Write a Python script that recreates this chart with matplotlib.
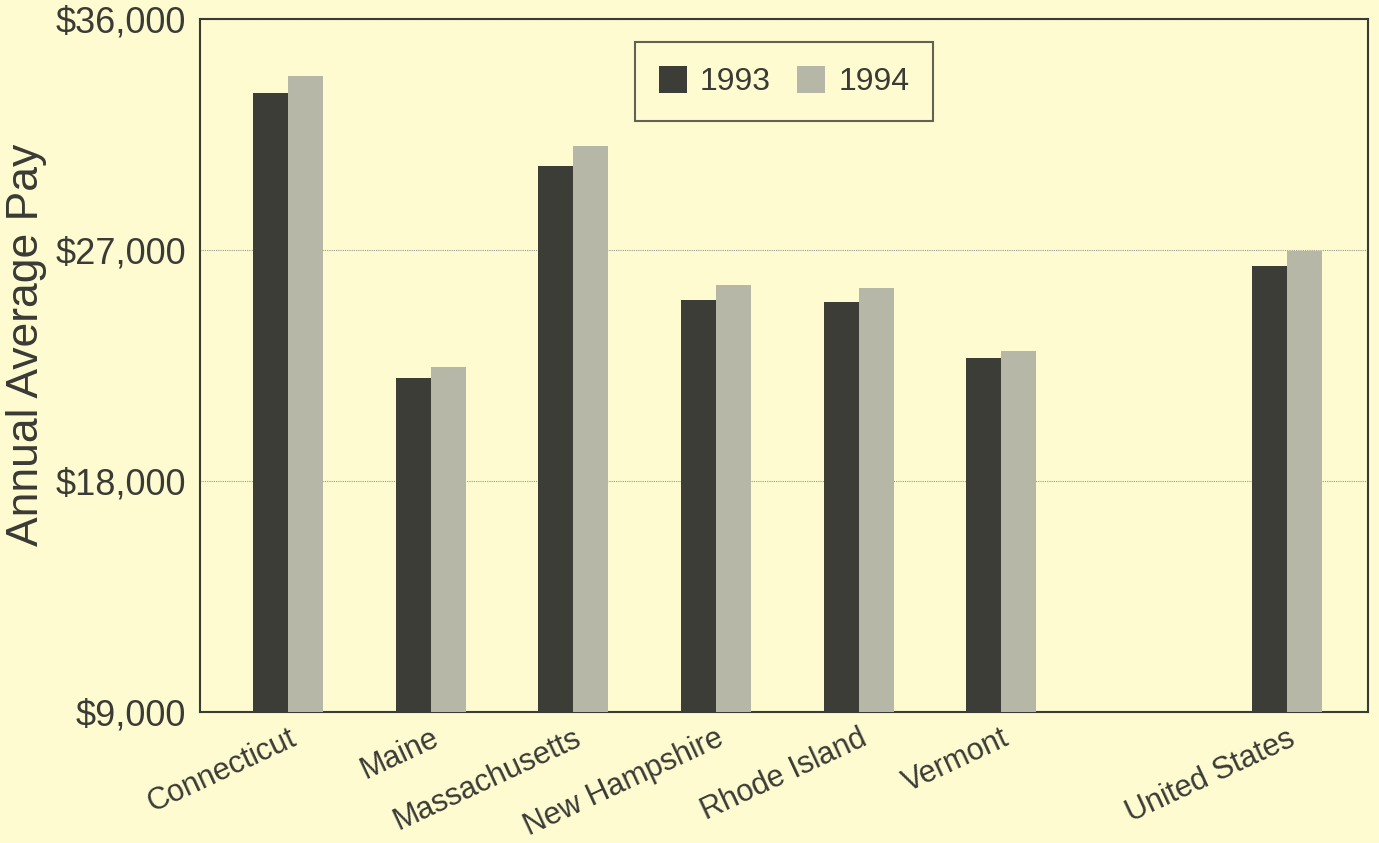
import numpy as np
import matplotlib.pyplot as plt
from matplotlib.ticker import FuncFormatter

plt.rcParams['font.family'] = ['Liberation Sans', 'DejaVu Sans']

# Annual average pay, New England states and US
states = ["Connecticut", "Maine", "Massachusetts", "New Hampshire",
          "Rhode Island", "Vermont", "United States"]
slots = [0, 1, 2, 3, 4, 5, 7]  # gap before United States
pay_1993 = [33120, 22030, 30270, 25030, 24970, 22790, 26380]
pay_1994 = [33780, 22420, 31050, 25620, 25520, 23070, 26960]

bg = "#fdfbcf"
dark = "#3b3d36"
light = "#b7b7a8"
txt = "#3a3a36"

fig = plt.figure(figsize=(13.79, 8.43), dpi=100, facecolor=bg)
ax = fig.add_axes([0.145, 0.155, 0.847, 0.823], facecolor=bg)

x = np.array(slots)
w = 0.245
ax.bar(x - w / 2, pay_1993, width=w, color=dark, label="1993", zorder=3)
ax.bar(x + w / 2, pay_1994, width=w, color=light, label="1994", zorder=3)

ax.set_ylim(9000, 36000)
ax.set_yticks([9000, 18000, 27000, 36000])
ax.yaxis.set_major_formatter(FuncFormatter(lambda v, p: f"${v:,.0f}"))
ax.set_xlim(-0.617, 7.57)
ax.set_xticks(x)
ax.set_xticklabels(states, rotation=25, ha="right", rotation_mode="anchor")

ax.tick_params(axis="y", length=0, labelsize=26, colors=txt, pad=10)
ax.tick_params(axis="x", length=0, labelsize=22, colors=txt, pad=8)
ax.grid(axis="y", color="#9a9a90", linestyle=(0, (1, 1)), linewidth=0.8, zorder=0)
for s in ax.spines.values():
    s.set_color(txt)
    s.set_linewidth(1.5)

ax.set_ylabel("Annual Average Pay", fontsize=32, color=txt)
ax.yaxis.set_label_coords(-0.131, 0.53)

leg = ax.legend(loc="upper center", bbox_to_anchor=(0.5, 0.966), ncol=2,
                fontsize=23, frameon=True, fancybox=False, handlelength=0.9,
                handleheight=0.9, columnspacing=0.8, handletextpad=0.4,
                borderpad=0.75, borderaxespad=0)
leg.get_frame().set_edgecolor(txt)
leg.get_frame().set_facecolor(bg)
leg.get_frame().set_linewidth(1.5)
for t in leg.get_texts():
    t.set_color(txt)

plt.savefig("out.png", dpi=100, facecolor=bg)
